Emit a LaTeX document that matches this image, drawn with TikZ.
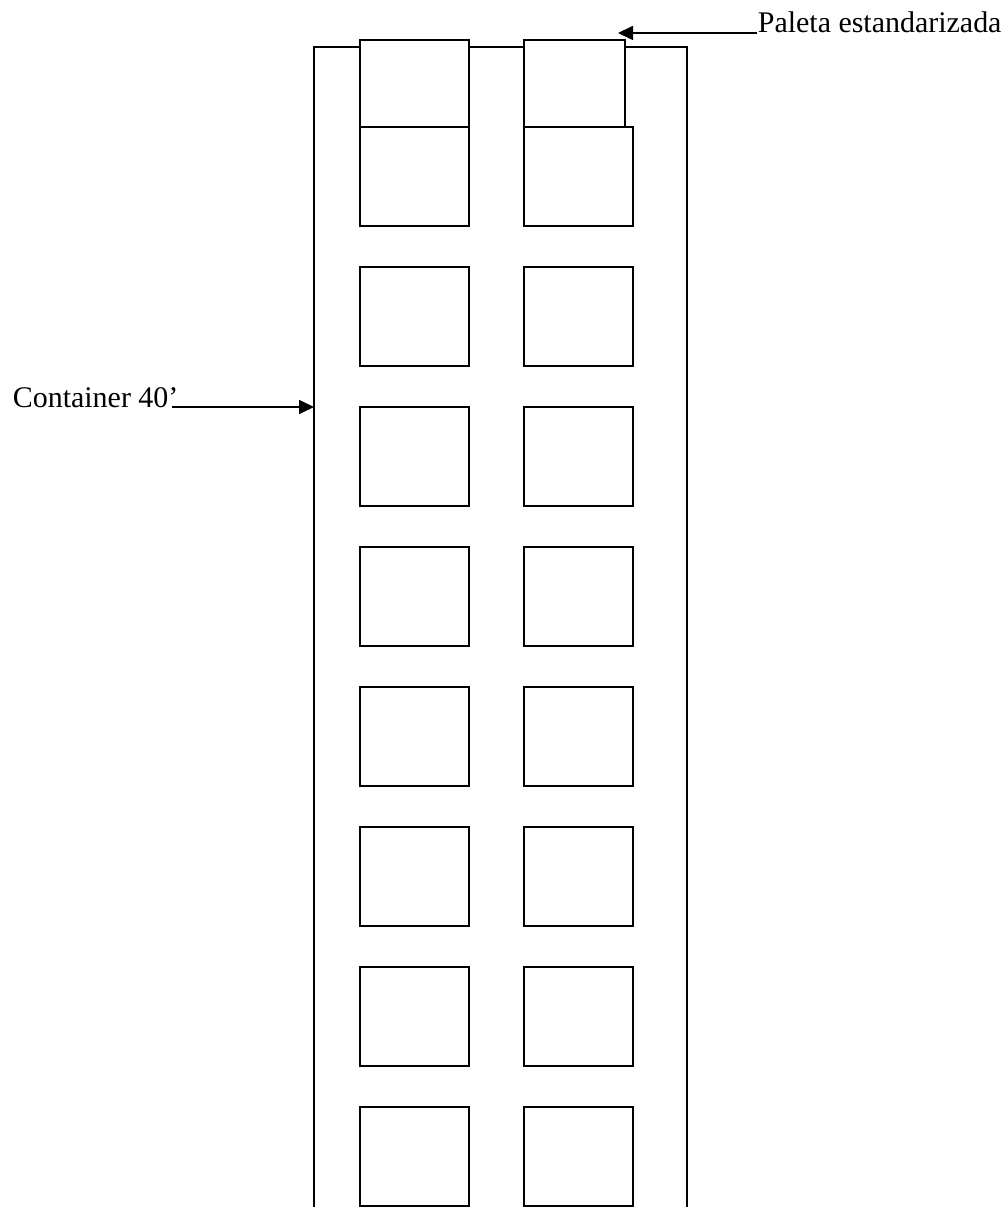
\documentclass[tikz,border=0pt]{standalone}
\usepackage{fontspec}
\setmainfont{Liberation Serif}
\usepackage{tikz}
\usetikzlibrary{arrows.meta}
\usetikzlibrary{positioning}
\tikzset{pallet/.style = {draw, fill = white, inner sep = 0, minimum width = 2.725cm, minimum height = 2.475cm}}
\tikzset{callout/.style = {inner sep = 0, font = \fontsize{21.3}{25}\selectfont}}
\tikzset{pointer/.style = {-{Triangle[length = 0.375cm, width = 0.35cm]}}}

\begin{document}
\begin{tikzpicture}[x = 0.025cm, y = -0.025cm, line width = 1.2pt]
  \useasboundingbox (0, 0) rectangle (1004, 1207);
  \draw (314, 1215) -- (314, 47) -- (687, 47) -- (687, 1215);
  \node [pallet, minimum height = 2.175cm] (topl) at (414.5, 83.5) {};
  \node [pallet, minimum width = 2.525cm, minimum height = 2.175cm] (topr) at (574.5, 83.5) {};
  \foreach \r in {1, ..., 8} {
    \node [pallet] (l\r) at (414.5, {36.5 + 140 * \r}) {};
    \node [pallet] (r\r) at (578.5, {36.5 + 140 * \r}) {};
  }
  \coordinate (wall) at (314, 407);
  \coordinate (tip) at (618, 33);
  \node [callout, anchor = base west] (cont) at (12, 407) {Container 40’};
  \node [callout, anchor = base west] (pal) at (757, 33) {Paleta estandarizada};
  \draw [pointer] ([xshift = -5pt]cont.base east) -- (wall);
  \draw [pointer] (pal.base west) -- (tip);
\end{tikzpicture}
\end{document}
